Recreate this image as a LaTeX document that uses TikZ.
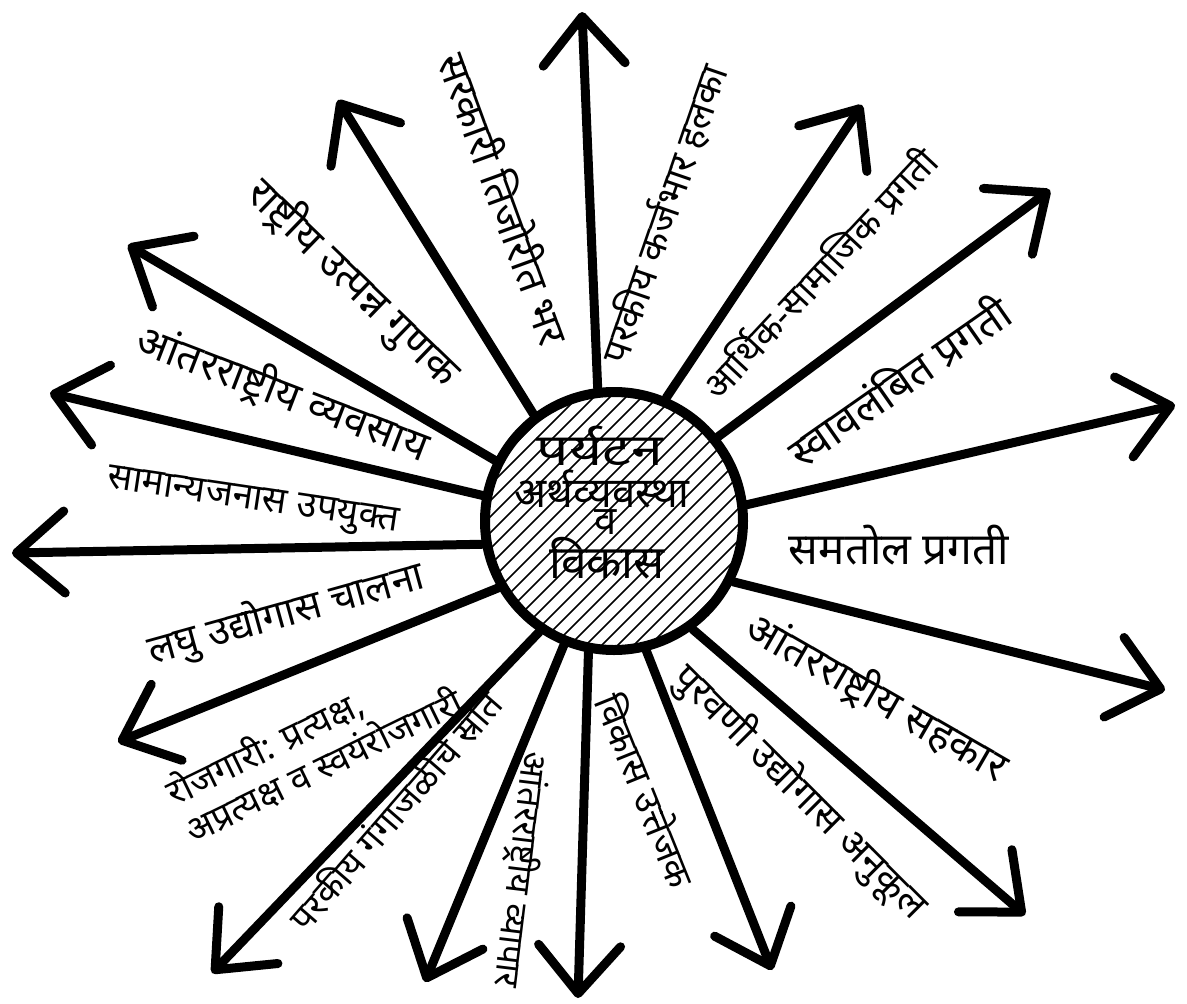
\documentclass[tikz,border=0pt]{standalone}
\usepackage{fontspec}
\newfontfamily\dev[Script=Devanagari]{Noto Sans}
\newfontfamily\devwide[Script=Devanagari,FakeStretch=1.3]{Noto Sans}
\usetikzlibrary{arrows.meta}
\begin{document}
\begin{tikzpicture}[x=1pt,y=-1pt,
  spoke/.style={line width=9pt, line cap=round, -{Straight Barb[length=48pt,width=82pt,round]}},
  lbl/.style={font=\dev\fontsize{#1}{#1}\selectfont, inner sep=0pt, align=left},
  lbl/.default=40,
  hub/.style={circle, draw, line width=10pt, minimum size=258pt, inner sep=0pt,
    path picture={\foreach \k in {-14,...,14}
      \draw[line width=1.6pt] ([shift={(\k*16-220,220)}]path picture bounding box.center) -- ++(440,-440);}},
  hubtext/.style={font=\dev\fontsize{#1}{#1}\selectfont, inner sep=0pt}]
\useasboundingbox (0,0) rectangle (1187,1004);
% hub
\node[hub] (hub) at (614,521) {};
\node[inner sep=0pt, font=\devwide\fontsize{44}{44}\selectfont] (h1) at (600,446) {पर्यटन};
\node[hubtext=42] (h2) at (602,489) {अर्थव्यवस्था};
\node[hubtext=40] (h3) at (606,522) {व};
\node[hubtext=46] (h4) at (607,558) {विकास};
% tips
\coordinate (t1) at (582,12);
\coordinate (t2) at (338,100);
\coordinate (t3) at (128,245);
\coordinate (t4) at (50,393);
\coordinate (t5) at (12,553);
\coordinate (t6) at (118,742);
\coordinate (t7) at (212,973);
\coordinate (t8) at (425,982);
\coordinate (t9) at (578,998);
\coordinate (t10) at (772,970);
\coordinate (t11) at (1025,915);
\coordinate (t12) at (1165,690);
\coordinate (t13) at (1175,405);
\coordinate (t14) at (1050,190);
\coordinate (t15) at (862,105);
\draw[spoke] (hub.97) -- (t1);
\draw[spoke] (hub.127) -- (t2);
\draw[spoke] (hub.153) -- (t3);
\draw[spoke] (hub.169) -- (t4);
\draw[spoke] (hub.190) -- (t5);
\draw[spoke] (hub.210) -- (t6);
\draw[spoke] (hub.236) -- (t7);
\draw[spoke] (hub.248) -- (t8);
\draw[spoke] (hub.259) -- (t9);
\draw[spoke] (hub.284) -- (t10);
\draw[spoke] (hub.306) -- (t11);
\draw[spoke] (hub.333) -- (t12);
\draw[spoke] (hub.7) -- (t13);
\draw[spoke] (hub.39) -- (t14);
\draw[spoke] (hub.67) -- (t15);
% labels
\node[lbl=41, rotate=-70] (l1) at (506,198) {सरकारी तिजोरीत भर};
\node[lbl=38, rotate=71] (l2) at (664,214) {परकीय कर्जभार हलका};
\node[lbl=37, rotate=47] (l3) at (818,272) {आर्थिक-सामाजिक प्रगती};
\node[lbl=43, rotate=35] (l4) at (898,380) {स्वावलंबित प्रगती};
\node[lbl=44] (l5) at (899,545) {समतोल प्रगती};
\node[lbl=42, rotate=-30] (l6) at (877,697) {आंतरराष्ट्रीय सहकार};
\node[lbl=39, rotate=-45] (l7) at (800,792) {पुरवणी उद्योगास अनुकूल};
\node[lbl=37, rotate=-68] (l8) at (647,790) {विकास उत्तेजक};
\node[lbl=35, rotate=-97] (l9) at (521,870) {आंतरराष्ट्रीय व्यापार};
\node[lbl=36, rotate=49] (l10) at (394,810) {परकीय गंगाजळीचे स्रोत};
\node[lbl=36, rotate=26] (l11) at (314,746) {रोजगारी: प्रत्यक्ष,\\[4pt]अप्रत्यक्ष व स्वयंरोजगारी};
\node[lbl=40, rotate=15.5] (l12) at (286,614) {लघु उद्योगास चालना};
\node[lbl=37, rotate=-8.5] (l13) at (253,503) {सामान्यजनास उपयुक्त};
\node[lbl=42, rotate=-21] (l14) at (283,393) {आंतरराष्ट्रीय व्यवसाय};
\node[lbl=42, rotate=-44] (l15) at (353,283) {राष्ट्रीय उत्पन्न गुणक};
\end{tikzpicture}
\end{document}
